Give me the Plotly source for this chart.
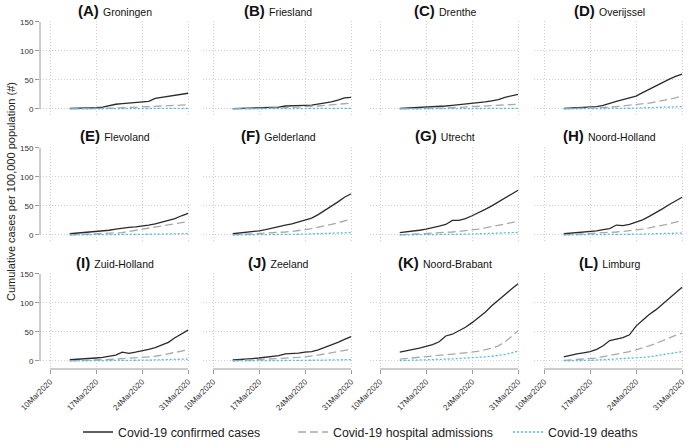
import plotly.graph_objects as go
import pandas as pd

dates = [d.strftime("%Y-%m-%d") for d in pd.date_range("2020-03-13", "2020-03-31")]

provinces = ["Groningen", "Friesland", "Drenthe", "Overijssel",
             "Flevoland", "Gelderland", "Utrecht", "Noord-Holland",
             "Zuid-Holland", "Zeeland", "Noord-Brabant", "Limburg"]
letters = ["A", "B", "C", "D", "E", "F", "G", "H", "I", "J", "K", "L"]

confirmed_groningen = [1, 1, 1.5, 2, 2, 3, 6, 8, 9, 10, 12, 12, 13, 18, 20, 22, 24, 25, 27]
confirmed_friesland = [0.5, 0.7, 1, 1.2, 1.5, 2, 2.5, 3, 5, 5, 5.5, 6, 6.5, 8, 10, 12, 15, 19, 20]
confirmed_drenthe = [1, 1.5, 2, 2, 2.5, 3, 4, 5, 6, 7, 8, 9, 10, 12, 14, 16, 20, 23, 25]
confirmed_overijssel = [1, 1.5, 2, 2.5, 3, 4, 6, 10, 13, 16, 19, 22, 28, 34, 40, 45, 51, 56, 60]
confirmed_flevoland = [2, 3, 4, 5, 6, 6.5, 8, 10, 12, 13, 14, 15, 17, 19, 22, 25, 28, 33, 37]
confirmed_gelderland = [2, 3, 4, 5, 7, 9, 12, 14, 17, 19, 22, 25, 29, 35, 42, 50, 57, 65, 71]
confirmed_utrecht = [4, 5, 6, 8, 10, 12, 15, 18, 25, 25, 28, 33, 38, 44, 50, 57, 64, 71, 77]
confirmed_noordholland = [2, 3, 3.5, 4, 5, 7, 9, 11, 17, 16, 18, 22, 26, 32, 38, 45, 52, 59, 65]
confirmed_zuidholland = [2, 2.5, 3, 4, 5, 6, 8, 10, 15, 13, 15, 17, 20, 23, 27, 32, 40, 47, 53]
confirmed_zeeland = [1.5, 2, 3, 4, 5, 6, 8, 9, 12, 12.5, 13.5, 15, 16, 19, 23, 28, 32, 37, 42]
confirmed_noordbrabant = [15, 17, 20, 22, 25, 28, 33, 43, 46, 52, 58, 66, 75, 84, 95, 105, 115, 124, 133]
confirmed_limburg = [7, 10, 12, 14, 16, 20, 26, 35, 38, 40, 45, 60, 70, 80, 88, 98, 107, 117, 127]

hospital_groningen = [0, 0, 0.3, 0.5, 0.7, 1, 1.3, 1.5, 2, 2.5, 3, 3, 3.5, 4, 4.5, 5, 5.5, 6, 7]
hospital_friesland = [0, 0, 0.2, 0.4, 0.6, 1, 1.3, 1.6, 2, 2.5, 3, 3.5, 4, 5, 6, 7, 8, 9, 10]
hospital_drenthe = [0, 0, 0.2, 0.4, 0.6, 1, 1.2, 1.5, 2, 2.5, 3, 3.5, 4, 4.5, 5, 6, 6.5, 7, 8]
hospital_overijssel = [0, 0.3, 0.5, 1, 1.5, 2, 2.5, 3, 4, 5, 6, 7, 8, 10, 12, 14, 16, 19, 22]
hospital_flevoland = [0, 0.5, 1, 1.5, 2, 2, 2.5, 3, 4, 6, 8, 9, 11, 13, 15, 17, 19, 21, 23]
hospital_gelderland = [0, 0.5, 1, 1.5, 2, 2.5, 3, 4, 5, 6, 7, 9, 11, 13, 15, 18, 21, 24, 27]
hospital_utrecht = [0, 0.5, 1, 1.5, 2, 2.5, 3, 4, 5, 6, 7, 8, 10, 12, 14, 16, 19, 21, 24]
hospital_noordholland = [0, 0.5, 1, 1.5, 2, 2.5, 3, 4, 5, 6, 7, 8, 10, 12, 14, 16, 19, 22, 25]
hospital_zuidholland = [0, 0.3, 0.6, 1, 1.5, 2, 2.5, 3, 4, 4.5, 5, 6, 7, 8, 10, 12, 14, 16, 19]
hospital_zeeland = [0, 0.5, 1, 1.5, 2, 2.5, 3, 3.5, 4, 5, 6, 7, 8, 10, 12, 14, 16, 18, 20]
hospital_noordbrabant = [3, 4, 5, 6, 7, 8, 9, 10, 11, 12, 14, 15, 17, 19, 22, 26, 33, 42, 52]
hospital_limburg = [1, 1.5, 2, 3, 4, 5, 7, 9, 11, 13, 16, 19, 22, 26, 30, 35, 40, 44, 48]

deaths_groningen = [0, 0, 0, 0, 0, 0, 0, 0, 0.2, 0.2, 0.3, 0.3, 0.4, 0.5, 0.5, 0.6, 0.7, 0.8, 1]
deaths_friesland = [0, 0, 0, 0, 0, 0, 0, 0, 0.2, 0.2, 0.3, 0.3, 0.4, 0.5, 0.5, 0.6, 0.7, 0.8, 1]
deaths_drenthe = [0, 0, 0, 0, 0, 0, 0, 0, 0.2, 0.2, 0.3, 0.3, 0.4, 0.5, 0.5, 0.6, 0.7, 0.8, 1]
deaths_overijssel = [0, 0, 0, 0, 0, 0.2, 0.3, 0.5, 0.7, 0.9, 1.1, 1.4, 1.7, 2, 2.4, 2.8, 3.2, 3.6, 4]
deaths_flevoland = [0, 0, 0, 0, 0, 0, 0.2, 0.3, 0.4, 0.5, 0.6, 0.8, 1, 1.2, 1.4, 1.6, 1.8, 2, 2.2]
deaths_gelderland = [0, 0, 0, 0, 0, 0.2, 0.3, 0.5, 0.7, 0.9, 1.1, 1.4, 1.7, 2, 2.4, 2.8, 3.2, 3.6, 4]
deaths_utrecht = [0, 0, 0, 0, 0.2, 0.3, 0.4, 0.6, 0.8, 1, 1.2, 1.5, 1.8, 2.1, 2.5, 2.9, 3.3, 3.7, 4.2]
deaths_noordholland = [0, 0, 0, 0, 0, 0.2, 0.3, 0.4, 0.6, 0.8, 1, 1.2, 1.4, 1.7, 2, 2.3, 2.6, 2.9, 3.2]
deaths_zuidholland = [0, 0, 0, 0, 0, 0.2, 0.3, 0.4, 0.6, 0.8, 1, 1.2, 1.4, 1.7, 2, 2.3, 2.6, 2.9, 3.2]
deaths_zeeland = [0, 0, 0, 0, 0, 0, 0.2, 0.3, 0.4, 0.5, 0.6, 0.8, 1, 1.2, 1.4, 1.6, 1.8, 2, 2.2]
deaths_noordbrabant = [0.5, 0.7, 1, 1.2, 1.5, 2, 2.5, 3, 3.5, 4, 5, 5.5, 6, 7, 8, 9.5, 11, 14, 17]
deaths_limburg = [0, 0, 0.5, 1, 1, 1.5, 2, 2.5, 3, 3.5, 4, 5, 6, 7, 9, 10, 12, 14, 16]

confirmed = [confirmed_groningen, confirmed_friesland, confirmed_drenthe, confirmed_overijssel,
             confirmed_flevoland, confirmed_gelderland, confirmed_utrecht, confirmed_noordholland,
             confirmed_zuidholland, confirmed_zeeland, confirmed_noordbrabant, confirmed_limburg]
hospital = [hospital_groningen, hospital_friesland, hospital_drenthe, hospital_overijssel,
            hospital_flevoland, hospital_gelderland, hospital_utrecht, hospital_noordholland,
            hospital_zuidholland, hospital_zeeland, hospital_noordbrabant, hospital_limburg]
deaths = [deaths_groningen, deaths_friesland, deaths_drenthe, deaths_overijssel,
          deaths_flevoland, deaths_gelderland, deaths_utrecht, deaths_noordholland,
          deaths_zuidholland, deaths_zeeland, deaths_noordbrabant, deaths_limburg]

tick_dates = ["2020-03-10", "2020-03-17", "2020-03-24", "2020-03-31"]
tick_labels = ["10Mar2020", "17Mar2020", "24Mar2020", "31Mar2020"]
y_ticks = [0, 50, 100, 150]

W, H = 690, 447
col_left = [40, 203, 370, 534]
col_w = 150
row_top = [21.4, 147.4, 273.4]
row_bot = [117, 243, 369]
title_y = [10, 136, 262]


def px(x):
    return x / W


def py(y):
    return 1 - y / H


C_CONF = "#2b2b2b"
C_HOSP = "#a9a9a9"
C_DEATH = "#4fb9ea"
GRID = "#cfcfcf"
AXC = "#9a9a9a"
FONT = "Liberation Sans, Arial"

fig = go.Figure()
layout = dict()
shapes = []
annotations = []

for i in range(12):
    r, c = divmod(i, 4)
    n = i + 1
    xa = "x" if n == 1 else f"x{n}"
    ya = "y" if n == 1 else f"y{n}"
    xkey = "xaxis" if n == 1 else f"xaxis{n}"
    ykey = "yaxis" if n == 1 else f"yaxis{n}"
    show_leg = (i == 0)
    fig.add_trace(go.Scatter(x=dates, y=confirmed[i], mode="lines", xaxis=xa, yaxis=ya,
                             line=dict(color=C_CONF, width=1.3), name="Covid-19 confirmed cases",
                             legendgroup="c", showlegend=show_leg))
    fig.add_trace(go.Scatter(x=dates, y=hospital[i], mode="lines", xaxis=xa, yaxis=ya,
                             line=dict(color=C_HOSP, width=1.3, dash="8px,4px"),
                             name="Covid-19 hospital admissions", legendgroup="h", showlegend=show_leg))
    fig.add_trace(go.Scatter(x=dates, y=deaths[i], mode="lines", xaxis=xa, yaxis=ya,
                             line=dict(color=C_DEATH, width=1.3, dash="2px,2px"),
                             name="Covid-19 deaths", legendgroup="d", showlegend=show_leg))
    x0 = px(col_left[c])
    x1 = px(col_left[c] + col_w)
    y1 = py(row_top[r])
    y0 = py(row_bot[r])
    bottom = (r == 2)
    left = (c == 0)
    layout[xkey] = dict(domain=[x0, x1], anchor=ya, type="date",
                        range=["2020-03-08 11:30", "2020-03-31 07:00"],
                        tickvals=tick_dates, ticktext=tick_labels,
                        showticklabels=bottom, ticks="outside" if bottom else "",
                        ticklen=4, tickcolor=AXC, tickangle=-45,
                        tickfont=dict(size=8, color="#333", family=FONT),
                        showgrid=True, gridcolor=GRID, griddash="1px,2px", gridwidth=1,
                        showline=False, zeroline=False, fixedrange=True)
    layout[ykey] = dict(domain=[y0, y1], anchor=xa, range=[-14, 151],
                        tickvals=y_ticks, showticklabels=left,
                        ticks="outside" if left else "", ticklen=4, tickcolor=AXC,
                        tickfont=dict(size=8, color="#333", family=FONT),
                        showgrid=True, gridcolor=GRID, griddash="1px,2px", gridwidth=1,
                        showline=False, zeroline=False, fixedrange=True)
    if left:
        shapes.append(dict(type="line", xref=f"{xa} domain", yref=ya, x0=0, x1=0, y0=0, y1=150,
                           line=dict(color=AXC, width=1)))
    if bottom:
        shapes.append(dict(type="line", xref=xa, yref=f"{ya} domain",
                           x0=tick_dates[0], x1=tick_dates[-1], y0=0, y1=0,
                           line=dict(color=AXC, width=1)))
    annotations.append(dict(
        text=f"<b>({letters[i]})</b> <span style='font-size:10.5px'>{provinces[i]}</span>",
        x=(x0 + x1) / 2, y=py(title_y[r]), xref="paper", yref="paper",
        xanchor="center", yanchor="middle", showarrow=False,
        font=dict(size=15, color="#111", family=FONT)))

annotations.append(dict(text="Cumulative cases per 100,000 population (#)", textangle=-90,
                        x=px(11), y=py(192), xref="paper", yref="paper",
                        xanchor="center", yanchor="middle", showarrow=False,
                        font=dict(size=11, color="#222", family=FONT)))

fig.update_layout(
    width=W, height=H,
    margin=dict(l=0, r=0, t=0, b=0, autoexpand=False),
    paper_bgcolor="white", plot_bgcolor="white",
    showlegend=True,
    legend=dict(orientation="h", x=px(78), y=py(432), xanchor="left", yanchor="middle",
                font=dict(size=12.3, color="#222", family=FONT),
                itemwidth=30, tracegroupgap=0, entrywidth=170, entrywidthmode="pixels",
                bgcolor="rgba(0,0,0,0)"),
    shapes=shapes, annotations=annotations,
    **layout,
)

fig.write_html("out.html", config={"displayModeBar": False},
               post_script="document.body.style.margin='0px';")
